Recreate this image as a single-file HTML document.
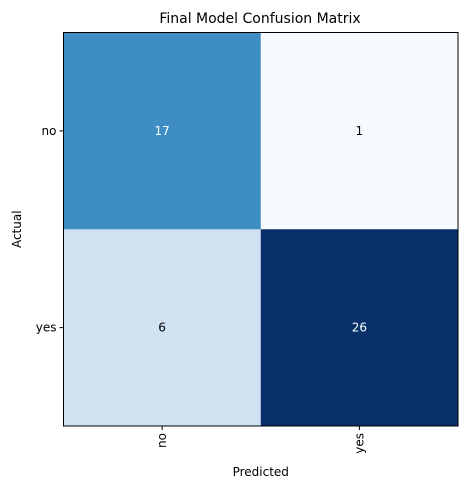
<!DOCTYPE html>
<html><head><meta charset="utf-8"><style>
body{margin:0;background:#fff;}
svg text{font-family:"DejaVu Sans","Liberation Sans",sans-serif;}
</style></head><body>
<svg id="chart" width="467" height="489" xmlns="http://www.w3.org/2000/svg">
<text x="260" y="23" font-size="14" text-anchor="middle" fill="#000">Final Model Confusion Matrix</text>
<g id="cells"></g>
<g id="axes"></g>
</svg>
<script>
const xLabels = ["no", "yes"];
const yLabels = ["no", "yes"];
const values = [[17, 1], [6, 26]];

const L = 63.5, T = 32.5, W = 394.5, H = 393.5;
const blues = ["#f7fbff","#deebf7","#c6dbef","#9ecae1","#6baed6","#4292c6","#2171b5","#08519c","#08306b"];
function hex(c){return [1,3,5].map(i=>parseInt(c.substr(i,2),16));}
function cmap(t){
  t=Math.max(0,Math.min(1,t));
  const p=t*(blues.length-1), i=Math.min(Math.floor(p),blues.length-2), f=p-i;
  const a=hex(blues[i]), b=hex(blues[i+1]);
  return "rgb("+a.map((v,k)=>Math.round(v+(b[k]-v)*f)).join(",")+")";
}
const flat = values.flat();
const vmin = Math.min(...flat), vmax = Math.max(...flat);
const cw = W / xLabels.length, ch = H / yLabels.length;
const xPos = i => L + cw * i;
const yPos = j => T + ch * j;
const NS = "http://www.w3.org/2000/svg";
const cells = document.getElementById("cells");
const axes = document.getElementById("axes");
function mk(tag, attrs, parent){
  const e=document.createElementNS(NS,tag);
  for(const k in attrs) e.setAttribute(k,attrs[k]);
  parent.appendChild(e); return e;
}
values.forEach((row,j)=>row.forEach((v,i)=>{
  const t=(v-vmin)/(vmax-vmin);
  const r=mk("rect",{x:xPos(i),y:yPos(j),width:cw+0.5,height:ch+0.5,fill:cmap(t)},cells);
  
  
  const tx=mk("text",{x:xPos(i)+cw/2,y:yPos(j)+ch/2+4,"font-size":"12","text-anchor":"middle",fill:t>0.5?"#fff":"#000"},cells);
  tx.textContent=v;
  
  
}));
const frame=mk("rect",{x:L,y:T,width:W,height:H,fill:"none",stroke:"#000","stroke-width":"1"},axes);


xLabels.forEach((lab,i)=>{
  const cx=xPos(i)+cw/2;
  mk("line",{x1:cx,y1:T+H,x2:cx,y2:T+H+4,stroke:"#000"},axes);
  const t=mk("text",{x:0,y:0,"font-size":"12","text-anchor":"end",transform:`translate(${cx+4},${T+H+7}) rotate(-90)`},axes);
  t.textContent=lab;
  
  
});
yLabels.forEach((lab,j)=>{
  const cy=yPos(j)+ch/2;
  mk("line",{x1:L-4,y1:cy,x2:L,y2:cy,stroke:"#000"},axes);
  const t=mk("text",{x:L-7,y:cy+4,"font-size":"12","text-anchor":"end"},axes);
  t.textContent=lab;
  
  
});
const xt=mk("text",{x:L+W/2,y:476,"font-size":"12","text-anchor":"middle"},axes);
xt.textContent="Predicted";


const yt=mk("text",{x:0,y:0,"font-size":"12","text-anchor":"middle",transform:`translate(21,${T+H/2}) rotate(-90)`},axes);
yt.textContent="Actual";


</script>
</body></html>
